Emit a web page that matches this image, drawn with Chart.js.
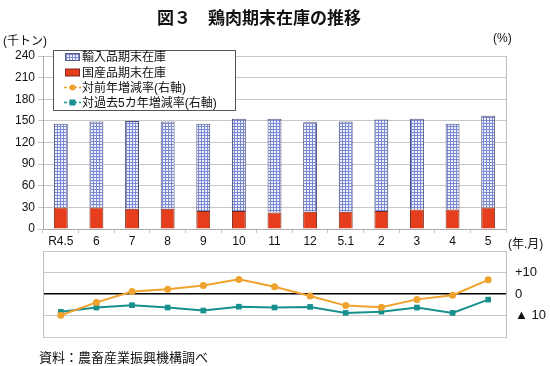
<!DOCTYPE html>
<html>
<head>
<meta charset="utf-8">
<script src="https://cdn.jsdelivr.net/npm/chart.js@4"></script>
<style>
  body { margin: 0; background: #fff; font-family: "Liberation Sans", "Noto Sans CJK JP", sans-serif; }
  #wrap { position: relative; width: 550px; height: 366px; overflow: hidden; }
  canvas { position: absolute; left: 0; top: 0; }
  .txt { position: absolute; color: #111; white-space: nowrap; font-size: 12px; }
</style>
</head>
<body>
<div id="wrap">
  <canvas id="top" width="550" height="366"></canvas>
  <canvas id="bottom" width="550" height="366"></canvas>
  <div class="txt" style="left:157px;top:4px;font-size:17px;font-weight:bold;">図３　鶏肉期末在庫の推移</div>
  <div class="txt" style="left:3px;top:31px;">(千トン)</div>
  <div class="txt" style="left:493px;top:31px;">(%)</div>
  <div class="txt" style="left:508px;top:234px;">(年.月)</div>
  <div class="txt" style="left:39px;top:347px;font-size:13px;">資料：農畜産業振興機構調べ</div>
</div>
<script>
const labels = ['R4.5', '6', '7', '8', '9', '10', '11', '12', '5.1', '2', '3', '4', '5'];
const imported = [116, 119, 122, 121, 121, 128, 130, 124, 125, 127, 126, 119, 127];
const domestic = [30, 30, 28, 28, 25, 25, 23, 24, 24, 25, 27, 27, 30];
const yoy = [-9.9, -3.9, 1.2, 2.2, 4.0, 6.8, 3.4, -0.9, -5.4, -6.2, -2.5, -0.6, 6.6];
const vs5yr = [-8.3, -6.3, -5.2, -6.3, -7.7, -5.9, -6.3, -6.0, -8.8, -8.2, -6.3, -8.8, -2.6];
const seriesNames = ['輸入品期末在庫', '国産品期末在庫', '対前年増減率(右軸)', '対過去5カ年増減率(右軸)'];

const FONT = '"Liberation Sans", "Noto Sans CJK JP", sans-serif';
const GRID = '#c8c8c8';
const ORANGE = '#f0a22e';
const TEAL = '#17908e';
const RED = '#e63d1c';

// blue check pattern for imported stock
const pc = document.createElement('canvas');
pc.width = 3; pc.height = 3;
const px = pc.getContext('2d');
px.fillStyle = '#eef0fb';
px.fillRect(0, 0, 3, 3);
px.fillStyle = '#7b88d2';
px.fillRect(0, 0, 3, 1);
px.fillRect(0, 0, 1, 3);
const hatch = px.createPattern(pc, 'repeat');

const legendBox = {
  id: 'legendBox',
  afterDraw(chart) {
    const c = chart.ctx;
    c.save();
    c.fillStyle = '#fff';
    c.fillRect(53.5, 50.5, 182, 60);
    c.strokeStyle = '#555';
    c.lineWidth = 1;
    c.strokeRect(53.5, 50.5, 182, 60);
    const rows = [57, 72.5, 87.5, 102.5];
    // imported
    c.fillStyle = hatch;
    c.fillRect(65, rows[0] - 3.5, 15, 7);
    c.strokeStyle = '#5a5f8a';
    c.strokeRect(65.5, rows[0] - 3.5, 14, 7);
    // domestic
    c.fillStyle = RED;
    c.fillRect(65, rows[1] - 3.5, 15, 7);
    c.strokeStyle = '#7a2a1a';
    c.strokeRect(65.5, rows[1] - 3.5, 14, 7);
    // lines
    [[ORANGE, 'circle'], [TEAL, 'rect']].forEach(function(s, i) {
      const y = rows[2 + i];
      c.strokeStyle = s[0];
      c.lineWidth = 1.5;
      c.setLineDash([3, 2]);
      c.beginPath(); c.moveTo(64, y); c.lineTo(81, y); c.stroke();
      c.setLineDash([]);
      c.fillStyle = s[0];
      if (s[1] === 'circle') { c.beginPath(); c.arc(72.5, y, 3, 0, Math.PI * 2); c.fill(); }
      else c.fillRect(69.5, y - 3, 6, 6);
    });
    c.fillStyle = '#111';
    c.font = '12px ' + FONT;
    c.textBaseline = 'middle';
    seriesNames.forEach(function(n, i) { c.fillText(n, 82, rows[i] + 1); });
    c.restore();
  }
};

new Chart(document.getElementById('top').getContext('2d'), {
  type: 'bar',
  data: {
    labels: labels,
    datasets: [
      { label: seriesNames[1], data: domestic, backgroundColor: RED, borderColor: '#7a2a1a', borderWidth: 1 },
      { label: seriesNames[0], data: imported, backgroundColor: hatch, borderColor: '#4a4f78', borderWidth: 1 }
    ]
  },
  options: {
    responsive: false,
    animation: false,
    layout: { padding: { top: 56, left: 0, right: 0, bottom: 0 } },
    datasets: { bar: { barPercentage: 0.39, categoryPercentage: 1 } },
    plugins: { legend: { display: false }, tooltip: { enabled: false } },
    scales: {
      x: {
        stacked: true,
        grid: { drawOnChartArea: false, tickLength: 4, color: GRID },
        border: { color: '#aaa' },
        ticks: { color: '#111', font: { family: FONT, size: 12 }, padding: 1, maxRotation: 0 },
        afterFit: function(s) { s.height = 137; }
      },
      y: {
        stacked: true,
        min: 0, max: 240,
        ticks: { stepSize: 30, color: '#111', font: { family: FONT, size: 12 }, padding: 3 },
        grid: { color: GRID, tickLength: 5 },
        border: { color: '#aaa' },
        afterFit: function(s) { s.width = 43; }
      },
      yR: {
        position: 'right',
        ticks: { display: false },
        grid: { drawOnChartArea: false, drawTicks: false },
        border: { color: '#c0c0c0' },
        afterFit: function(s) { s.width = 44; }
      }
    }
  },
  plugins: [legendBox]
});

new Chart(document.getElementById('bottom').getContext('2d'), {
  type: 'line',
  data: {
    labels: labels,
    datasets: [
      { label: seriesNames[2], data: yoy, borderColor: ORANGE, backgroundColor: ORANGE, borderWidth: 2,
        pointStyle: 'circle', pointRadius: 3.5, pointBorderWidth: 0, yAxisID: 'y' },
      { label: seriesNames[3], data: vs5yr, borderColor: TEAL, backgroundColor: TEAL, borderWidth: 2,
        pointStyle: 'rect', pointRadius: 4, pointBorderWidth: 0, yAxisID: 'y' }
    ]
  },
  options: {
    responsive: false,
    animation: false,
    layout: { padding: { top: 251, left: 0, right: 0, bottom: 29 } },
    plugins: { legend: { display: false }, tooltip: { enabled: false } },
    scales: {
      x: { display: false, offset: true },
      y: {
        position: 'right',
        min: -20, max: 20,
        ticks: {
          stepSize: 10, color: '#111', font: { family: FONT, size: 13 }, padding: 9,
          callback: function(v) { return v === 10 ? '+10' : v === 0 ? '0' : v === -10 ? '▲ 10' : ''; }
        },
        grid: {
          drawTicks: false,
          color: function(c) { return c.tick && c.tick.value === 0 ? '#000' : GRID; },
          lineWidth: function(c) { return c.tick && c.tick.value === 0 ? 1.5 : 1; }
        },
        border: { color: '#c0c0c0' },
        afterFit: function(s) { s.width = 44; }
      },
      yL: {
        position: 'left',
        min: -20, max: 20,
        ticks: { display: false },
        grid: { drawOnChartArea: false, drawTicks: false },
        border: { color: '#c0c0c0' },
        afterFit: function(s) { s.width = 43; }
      }
    }
  }
});
</script>
</body>
</html>
